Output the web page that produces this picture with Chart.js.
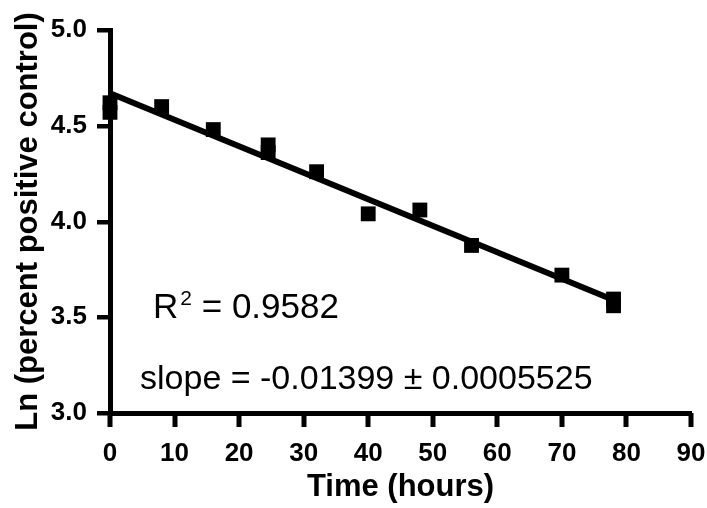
<!DOCTYPE html>
<html>
<head>
<meta charset="utf-8">
<script src="https://cdn.jsdelivr.net/npm/chart.js@4.4.0/dist/chart.umd.min.js"></script>
<style>
  html, body { margin: 0; padding: 0; background: #fff; }
  #wrap { width: 707px; height: 508px; }
</style>
</head>
<body>
<div id="wrap"><canvas id="chart" width="707" height="508"></canvas></div>
<script>
const timeHours = [0, 0, 8, 16, 24.5, 24.5, 32, 40, 48, 56, 70, 78, 78];
const lnPercent = [4.62, 4.57, 4.60, 4.48, 4.40, 4.36, 4.26, 4.04, 4.06, 3.875, 3.72, 3.595, 3.56];

// fitted line ends
const fitX = [0, 78];
const fitY = [4.67, 3.59];

const xTicks = [0, 10, 20, 30, 40, 50, 60, 70, 80, 90];
const yTicks = [3.0, 3.5, 4.0, 4.5, 5.0];

const annotations = [
  { text: 'R', sup: '2', rest: ' = 0.9582', x: 6.67, y: 3.496, size: 35 },
  { text: 'slope = -0.01399 \u00b1 0.0005525', x: 4.65, y: 3.125, size: 34 }
];

const tickFont = { family: 'Liberation Sans', size: 26, weight: 'bold' };

// tick marks drawn by hand, outside the axes
const tickPlugin = {
  id: 'axisTicks',
  afterDraw(chart) {
    const ctx = chart.ctx;
    const xs = chart.scales.x, ys = chart.scales.y;
    const area = chart.chartArea;
    ctx.save();
    ctx.fillStyle = '#000';
    xTicks.forEach(v => {
      const px = Math.round(xs.getPixelForValue(v));
      ctx.fillRect(px - 2.5, area.bottom, 5, 14);
    });
    yTicks.forEach(v => {
      const py = Math.round(ys.getPixelForValue(v));
      ctx.fillRect(area.left - 13, py - 2, 13, 4.5);
    });
    ctx.restore();
  }
};

const textPlugin = {
  id: 'fitText',
  afterDraw(chart) {
    const ctx = chart.ctx;
    const xs = chart.scales.x, ys = chart.scales.y;
    ctx.save();
    ctx.fillStyle = '#000';
    ctx.textBaseline = 'alphabetic';
    ctx.textAlign = 'left';
    annotations.forEach(a => {
      let px = xs.getPixelForValue(a.x);
      const py = ys.getPixelForValue(a.y);
      ctx.font = a.size + 'px "Liberation Sans"';
      ctx.fillText(a.text, px, py);
      if (a.sup) {
        px += ctx.measureText(a.text).width;
        ctx.font = '21px "Liberation Sans"';
        ctx.fillText(a.sup, px + 2, py - 13);
        px += ctx.measureText(a.sup).width + 2;
        ctx.font = a.size + 'px "Liberation Sans"';
        ctx.fillText(a.rest, px, py);
      }
    });
    ctx.restore();
  }
};

new Chart(document.getElementById('chart'), {
  type: 'scatter',
  data: {
    datasets: [
      {
        label: 'fit',
        type: 'line',
        data: fitX.map((x, i) => ({ x: x, y: fitY[i] })),
        borderColor: '#000',
        borderWidth: 6,
        pointRadius: 0,
        fill: false,
        clip: false,
        order: 2
      },
      {
        label: 'data',
        data: timeHours.map((x, i) => ({ x: x, y: lnPercent[i] })),
        pointStyle: 'rect',
        pointRadius: 10.5,
        backgroundColor: '#000',
        borderColor: '#000',
        borderWidth: 0,
        clip: false,
        order: 1
      }
    ]
  },
  options: {
    responsive: false,
    animation: false,
    devicePixelRatio: 1,
    layout: { padding: { top: 30, right: 16, left: 0, bottom: 0 } },
    plugins: { legend: { display: false }, tooltip: { enabled: false } },
    scales: {
      x: {
        type: 'linear',
        min: 0, max: 90,
        afterBuildTicks: s => { s.ticks = xTicks.map(v => ({ value: v })); },
        afterFit: s => { s.height = 95; s.paddingLeft = 0; s.paddingRight = 0; },
        grid: { display: false },
        border: { display: true, color: '#000', width: 5 },
        ticks: { color: '#000', font: tickFont, padding: 17, maxRotation: 0 },
        title: { display: true, text: 'Time (hours)', color: '#000', font: { family: 'Liberation Sans', size: 31, weight: 'bold' }, padding: { top: 0, bottom: 2 } }
      },
      y: {
        type: 'linear',
        min: 3, max: 5,
        afterBuildTicks: s => { s.ticks = yTicks.map(v => ({ value: v })); },
        afterFit: s => { s.width = 110; s.paddingTop = 0; s.paddingBottom = 0; },
        grid: { display: false },
        border: { display: true, color: '#000', width: 5 },
        ticks: { color: '#000', font: tickFont, padding: 15, callback: v => v.toFixed(1) },
        title: { display: true, text: 'Ln (percent positive control)', color: '#000', font: { family: 'Liberation Sans', size: 31, weight: 'bold' }, padding: { top: 10, bottom: 0 } }
      }
    }
  },
  plugins: [tickPlugin, textPlugin]
});
</script>
</body>
</html>
